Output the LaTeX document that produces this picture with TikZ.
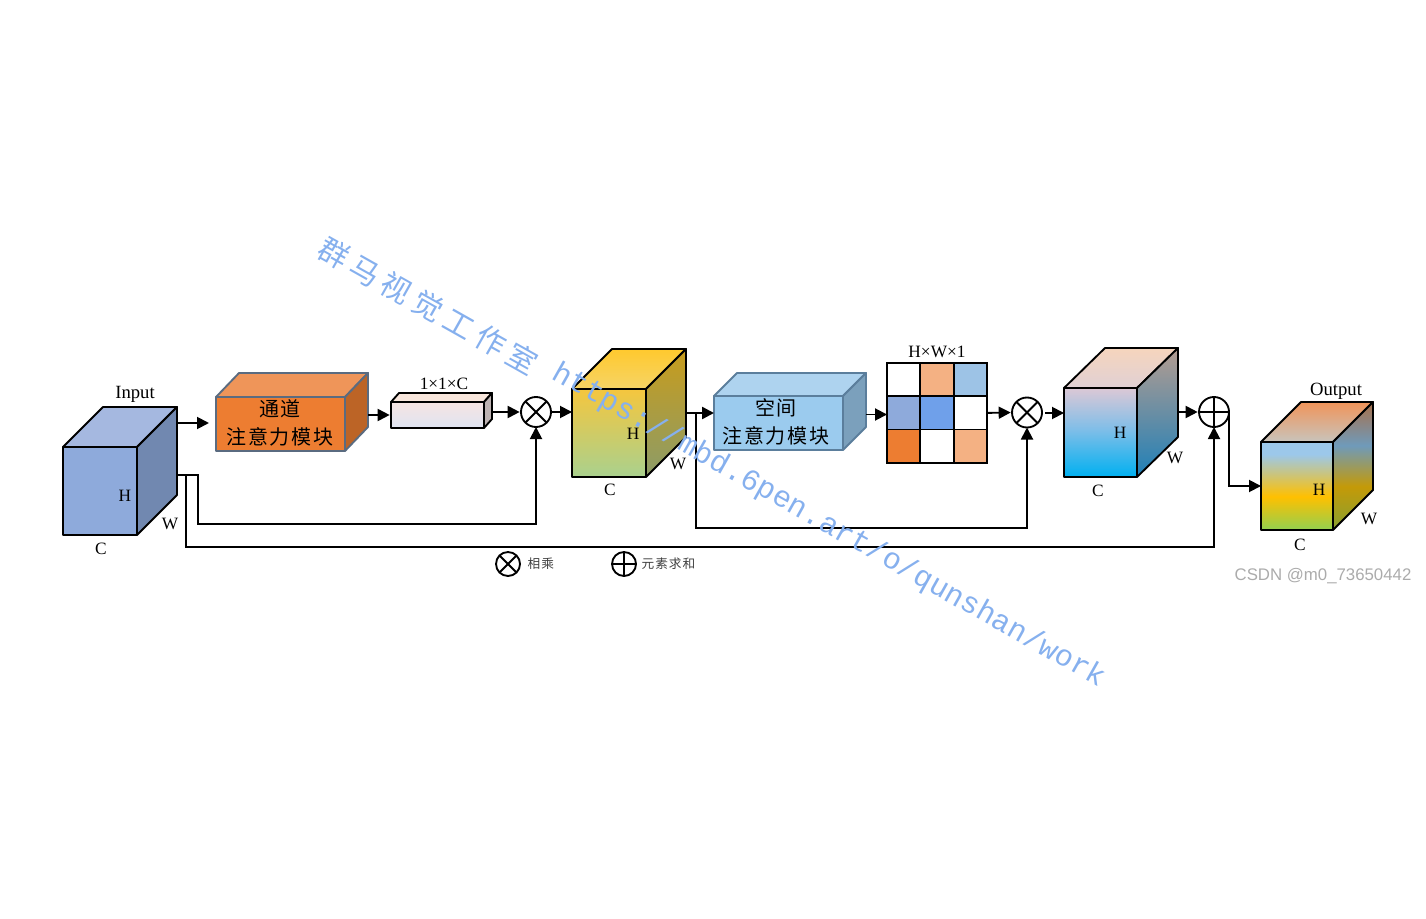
\documentclass[tikz,border=0pt]{standalone}
\usepackage{fontspec}
\setmainfont{Liberation Serif}
\newfontfamily\cjk[LetterSpace=8]{Noto Sans CJK SC}
\newfontfamily\cjkmark[LetterSpace=20]{Noto Sans CJK SC}
\newfontfamily\urlmark{Liberation Mono}
\newfontfamily\csdn{Liberation Sans}
\usetikzlibrary{arrows.meta,positioning}
\definecolor{markblue}{HTML}{86B0EE}
\definecolor{outA}{HTML}{9CC8EA}
\definecolor{outB}{HTML}{FFC000}
\definecolor{outC}{HTML}{92D050}
\definecolor{outP}{HTML}{A8704A}
\definecolor{outQ}{HTML}{6F9ABA}
\definecolor{outR}{HTML}{C49A08}
\definecolor{outS}{HTML}{88A030}
\definecolor{cbA}{HTML}{DCC8D6}
\definecolor{cbB}{HTML}{80BEE8}
\definecolor{cbC}{HTML}{00B0F0}
\definecolor{inA}{HTML}{8EAADB}\definecolor{inB}{HTML}{A5B8E0}\definecolor{inC}{HTML}{7188B0}
\definecolor{chA}{HTML}{ED7D31}\definecolor{chB}{HTML}{EF9559}\definecolor{chC}{HTML}{BC6426}
\definecolor{modgray}{HTML}{5A6B80}\definecolor{modblue}{HTML}{5B7E9C}
\definecolor{smA}{HTML}{F6E4E2}\definecolor{smB}{HTML}{DFE4F2}\definecolor{smC}{HTML}{F8E6DC}\definecolor{smD}{HTML}{BDB2B2}
\definecolor{yeA}{HTML}{F5C63E}\definecolor{yeB}{HTML}{A9D18E}\definecolor{yeC}{HTML}{FFC92E}\definecolor{yeD}{HTML}{F6D466}
\definecolor{yeE}{HTML}{C89C1C}\definecolor{yeF}{HTML}{8C9C68}
\definecolor{spA}{HTML}{9BCBEE}\definecolor{spB}{HTML}{AED3EF}\definecolor{spC}{HTML}{7BA0BC}
\definecolor{cuA}{HTML}{F6D5BD}\definecolor{cuB}{HTML}{E0D0D4}\definecolor{cuC}{HTML}{B49C90}\definecolor{cuD}{HTML}{1F80B8}
\definecolor{ouA}{HTML}{F0945A}\definecolor{ouB}{HTML}{C8C4BC}
\definecolor{gridA}{HTML}{F4B183}\definecolor{gridB}{HTML}{9DC3E6}\definecolor{gridC}{HTML}{8EAADB}\definecolor{gridD}{HTML}{6FA0EA}\definecolor{gridE}{HTML}{ED7D31}
\pgfdeclareverticalshading{outfrontfill}{100bp}{color(0bp)=(outC); color(25bp)=(outC); color(44bp)=(outB); color(68bp)=(outA); color(75bp)=(outA); color(100bp)=(outA)}
\pgfdeclareverticalshading{outsidefill}{100bp}{color(0bp)=(outS); color(25bp)=(outS); color(42bp)=(outR); color(58bp)=(outQ); color(75bp)=(outP); color(100bp)=(outP)}
\pgfdeclareverticalshading{cubemid}{100bp}{color(0bp)=(cbC); color(25bp)=(cbC); color(52bp)=(cbB); color(75bp)=(cbA); color(100bp)=(cbA)}
% front node, then top and side faces
\newcommand{\drawbox}[8]{%
  \node[#8front,anchor=north west,minimum width=#4*0.75pt,minimum height=#5*0.75pt] (#1) at (#2,#3) {};
  \draw[#8top] (#2,#3) -- ++(#6,-#7) -- ++(#4,0) -- ++(-#6,#7) -- cycle;
  \draw[#8side] (#2+#4,#3) -- ++(#6,-#7) -- ++(0,#5) -- ++(-#6,#7) -- cycle;
}
\tikzset{
  face/.style={draw=black,line width=1.4pt,line join=round,inner sep=0pt,outer sep=0pt},
  inputfront/.style={face,fill=inA},
  inputtop/.style={face,fill=inB},
  inputside/.style={face,fill=inC},
  chanfront/.style={face,draw=modgray,fill=chA},
  chantop/.style={face,draw=modgray,fill=chB},
  chanside/.style={face,draw=modgray,fill=chC},
  smallfront/.style={face,top color=smA,bottom color=smB},
  smalltop/.style={face,fill=smC},
  smallside/.style={face,fill=smD},
  yelfront/.style={face,top color=yeA,bottom color=yeB},
  yeltop/.style={face,top color=yeC,bottom color=yeD},
  yelside/.style={face,top color=yeE,bottom color=yeF},
  spafront/.style={face,draw=modblue,fill=spA},
  spatop/.style={face,draw=modblue,fill=spB},
  spaside/.style={face,draw=modblue,fill=spC},
  cubfront/.style={face,shading=cubemid},
  cubtop/.style={face,top color=cuA,bottom color=cuB},
  cubside/.style={face,top color=cuC,bottom color=cuD},
  outfront/.style={face,shading=outfrontfill},
  outtop/.style={face,top color=ouA,bottom color=ouB},
  outside/.style={face,shading=outsidefill},
  wire/.style={line width=1.4pt},
  flow/.style={wire,-{Triangle[length=9pt,width=9pt]}},
  dimlabel/.style={font=\fontsize{13}{13}\selectfont,inner sep=0pt},
  headlabel/.style={font=\fontsize{14}{14}\selectfont,inner sep=0pt},
  modlabel/.style={font=\cjk\fontsize{15}{15}\selectfont,inner sep=0pt},
  legendlabel/.style={font=\cjk\fontsize{9.5}{10}\selectfont,inner sep=0pt,text=black!75},
  opbase/.style={circle,draw=black,line width=1.4pt,fill=white,inner sep=0pt,outer sep=0pt,minimum size=22.5pt},
  mulop/.style={opbase,path picture={
    \draw[line width=1.4pt] (path picture bounding box.north west) -- (path picture bounding box.south east);
    \draw[line width=1.4pt] (path picture bounding box.north east) -- (path picture bounding box.south west);}},
  addop/.style={opbase,path picture={
    \draw[line width=1.6pt] (path picture bounding box.north) -- (path picture bounding box.south);
    \draw[line width=1.6pt] (path picture bounding box.west) -- (path picture bounding box.east);}},
  cell/.style={draw=black,line width=1.4pt,minimum size=25pt,inner sep=0pt,outer sep=0pt},
  watermark/.style={text=markblue,rotate=-29.4,inner sep=0pt},
}
\begin{document}
\begin{tikzpicture}[x=0.75pt,y=-0.75pt]
  \useasboundingbox (0,0) rectangle (1426,919);
  % boxes
  \drawbox{input}{63}{447}{74}{88}{40}{40}{input}
  \drawbox{chan}{216}{397}{129}{54}{23}{24}{chan}
  \drawbox{small}{391}{402}{93}{26}{8}{9}{small}
  \drawbox{yel}{572}{389}{74}{88}{40}{40}{yel}
  \drawbox{spa}{714}{396}{129}{54}{23}{23}{spa}
  \drawbox{cub}{1064}{388}{73}{89}{41}{40}{cub}
  \drawbox{out}{1261}{442}{72}{88}{40}{40}{out}
  % weight grid
  \foreach \row/\a/\b/\c in {1/white/gridA/gridB,2/gridC/gridD/white,3/gridE/white/gridA}{
    \node[cell,fill=\a] (g\row-1) at (903.7,346.3+33.3*\row) {};
    \node[cell,fill=\b] (g\row-2) at (937,346.3+33.3*\row) {};
    \node[cell,fill=\c] (g\row-3) at (970.3,346.3+33.3*\row) {};
  }
  % operators
  \node[mulop] (mul1) at (536,412) {};
  \node[mulop] (mul2) at (1027,412.5) {};
  \node[addop] (add) at (1214,412) {};
  % free ends on the side faces
  \coordinate (inputa) at (177,423);
  \coordinate (inputb) at (177,475);
  \coordinate (chanr) at (368,415);
  \coordinate (smallr) at (492,412);
  \coordinate (yelr) at (686,413);
  \coordinate (yelb) at (696,413);
  \coordinate (spar) at (866,414.5);
  \coordinate (cubr) at (1178,412);
  \coordinate (mul2r) at (1045,413);
  \draw[flow,shorten >=5.25pt] (inputa) -- (inputa -| chan.west);
  \draw[flow,shorten >=1pt] (chanr) -- (small.west);
  \draw[flow,shorten >=1pt] (smallr) -- (mul1.west);
  \draw[flow] (mul1.east) -- (mul1.east -| yel.west);
  \draw[flow,line width=1.8pt] (yelr) -- (yelr -| spa.west);
  \draw[flow] (spar) -- (spar -| g2-1.west);
  \draw[flow,shorten >=1pt] (g2-3.east) -- (mul2.west);
  \draw[flow] (mul2r) -- (mul2r -| cub.west);
  \draw[flow,shorten >=1pt] (cubr) -- (add.west);
  \draw[flow] (add.east) |- (out.west);
  \draw[flow] (inputb) -- ++(21,0) -- ++(0,49) -| (mul1.south);
  \draw[flow] (inputb) -- ++(9,0) -- ++(0,72) -| (add.south);
  \draw[flow] (yelb) -- ++(0,115) -| (mul2.south);
  % labels
  \node[headlabel] (inputname) at (135,394) {Input};
  \node[dimlabel] (inputh) at (125,496) {H};
  \node[dimlabel] (inputw) at (170,524) {W};
  \node[dimlabel] (inputc) at (101,549) {C};
  \node[modlabel] (chanup) at (280,409) {通道};
  \node[modlabel] (chanlow) at (280,436.5) {注意力模块};
  \node[dimlabel] (smallname) at (444,384) {1×1×C};
  \node[dimlabel] (yelh) at (633,434) {H};
  \node[dimlabel] (yelw) at (678,464) {W};
  \node[dimlabel] (yelc) at (610,490) {C};
  \node[modlabel] (spaup) at (776,408) {空间};
  \node[modlabel] (spalow) at (776,435.5) {注意力模块};
  \node[dimlabel] (gridname) at (937,352) {H×W×1};
  \node[dimlabel] (cubh) at (1120,433) {H};
  \node[dimlabel] (cubw) at (1175,458) {W};
  \node[dimlabel] (cubc) at (1098,491) {C};
  \node[headlabel] (outname) at (1336,391) {Output};
  \node[dimlabel] (outh) at (1319,490) {H};
  \node[dimlabel] (outw) at (1369,519) {W};
  \node[dimlabel] (outc) at (1300,545) {C};
  % legend
  \node[mulop,minimum size=18pt] (legmul) at (508,564) {};
  \node[legendlabel,right=5.5pt of legmul] (legmultext) {相乘};
  \node[addop,minimum size=18pt] (legadd) at (624,564) {};
  \node[legendlabel,right=4pt of legadd] (legaddtext) {元素求和};
  % overlays
  \node[watermark,font=\cjkmark\fontsize{22.5}{23}\selectfont] (markname) at (428,306) {群马视觉工作室};
  \node[watermark,font=\urlmark\fontsize{22.5}{23}\selectfont] (markurl) at (829,526) {https://mbd.6pen.art/o/qunshan/work};
  \node[font=\csdn\fontsize{12.6}{13}\selectfont,text=black!33,inner sep=0pt] (csdnmark) at (1323,576) {CSDN @m0\_73650442};
\end{tikzpicture}
\end{document}
